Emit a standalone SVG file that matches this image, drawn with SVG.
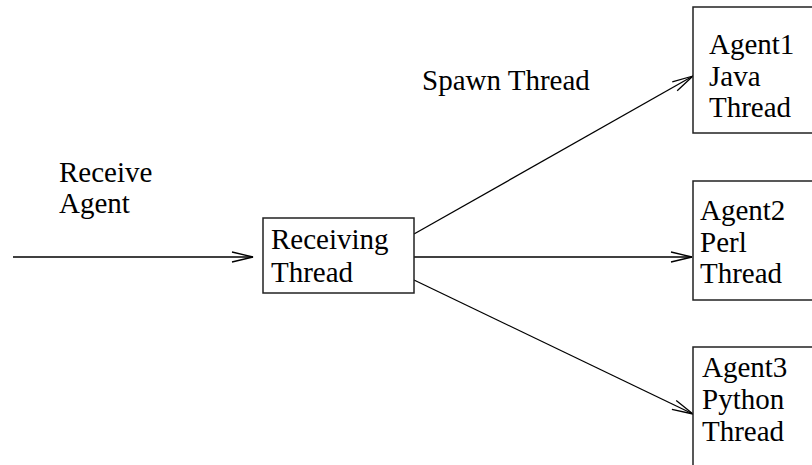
<svg xmlns="http://www.w3.org/2000/svg" width="812" height="465" viewBox="0 0 812 465">
  <style>
    .box { fill: #ffffff; stroke: #222222; stroke-width: 1.5; }
    .wire { fill: none; stroke: #000000; stroke-width: 1.3; marker-end: url(#open); }
    .lbl { font-family: "Liberation Serif", "Times New Roman", serif; font-size: 29px; fill: #000000; }
  </style>
  <defs>
    <marker id="open" markerUnits="userSpaceOnUse" markerWidth="24" markerHeight="12" refX="21" refY="5" orient="auto" overflow="visible">
      <path d="M0,0 L21,5 L0,10" fill="none" stroke="#000000" stroke-width="1.3"/>
    </marker>
  </defs>

  <rect width="812" height="465" fill="#ffffff"/>

  <!-- connectors -->
  <g id="connectors">
    <line class="wire" x1="13" y1="257" x2="253" y2="257"/>
    <line class="wire" x1="414" y1="234" x2="693" y2="76"/>
    <line class="wire" x1="414" y1="257" x2="692" y2="257"/>
    <line class="wire" x1="414" y1="280" x2="693" y2="414"/>
  </g>

  <!-- free labels -->
  <g id="label-receive">
    <text class="lbl" x="59" y="182">Receive</text>
    <text class="lbl" x="59" y="213">Agent</text>
  </g>
  <g id="label-spawn">
    <text class="lbl" x="422" y="90">Spawn Thread</text>
  </g>

  <!-- nodes -->
  <g id="receiving-thread">
    <rect class="box" x="263" y="218" width="151" height="75"/>
    <text class="lbl" x="271" y="249">Receiving</text>
    <text class="lbl" x="271" y="282">Thread</text>
  </g>
  <g id="agent1">
    <rect class="box" x="693" y="7" width="130" height="126"/>
    <text class="lbl" x="709" y="54">Agent1</text>
    <text class="lbl" x="709" y="86">Java</text>
    <text class="lbl" x="709" y="117">Thread</text>
  </g>
  <g id="agent2">
    <rect class="box" x="693" y="181" width="130" height="119"/>
    <text class="lbl" x="700" y="220">Agent2</text>
    <text class="lbl" x="700" y="252">Perl</text>
    <text class="lbl" x="700" y="283">Thread</text>
  </g>
  <g id="agent3">
    <rect class="box" x="693" y="347" width="130" height="130"/>
    <text class="lbl" x="702" y="377">Agent3</text>
    <text class="lbl" x="702" y="409">Python</text>
    <text class="lbl" x="702" y="441">Thread</text>
  </g>
</svg>
